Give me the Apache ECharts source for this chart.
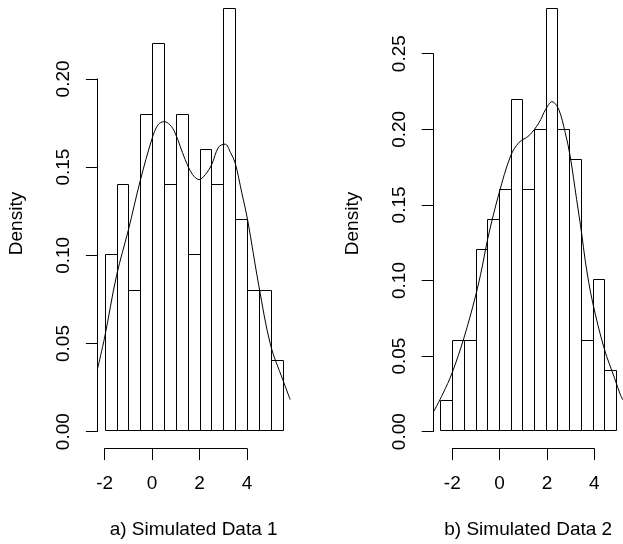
<!DOCTYPE html>
<html>
<head>
<meta charset="utf-8">
<script src="https://cdn.jsdelivr.net/npm/echarts@6/dist/echarts.min.js"></script>
<style>
  html, body { margin: 0; padding: 0; background: #fff; }
  #main { width: 623px; height: 544px; }
</style>
</head>
<body>
<div id="main"></div>
<script>
// histogram breaks and densities
const breaks1 = [-2, -1.5, -1, -0.5, 0, 0.5, 1, 1.5, 2, 2.5, 3, 3.5, 4, 4.5, 5, 5.5];
const density1 = [0.10, 0.14, 0.08, 0.18, 0.22, 0.14, 0.18, 0.10, 0.16, 0.14, 0.24, 0.12, 0.08, 0.08, 0.04];
const breaks2 = [-2.5, -2, -1.5, -1, -0.5, 0, 0.5, 1, 1.5, 2, 2.5, 3, 3.5, 4, 4.5, 5];
const density2 = [0.02, 0.06, 0.06, 0.12, 0.14, 0.16, 0.22, 0.16, 0.20, 0.28, 0.20, 0.18, 0.06, 0.10, 0.04];

// kernel density curves
const kdeX1 = [-2.3, -2.0, -1.5, -1.0, -0.5, 0.0, 0.25, 0.5, 0.75, 0.97, 1.39, 1.7, 1.98, 2.25, 2.51, 2.8, 3.08, 3.3, 3.5, 3.78, 4.02, 4.5, 5.0, 5.5, 5.82];
const kdeY1 = [0.035, 0.053, 0.088, 0.114, 0.142, 0.166, 0.1737, 0.1755, 0.1737, 0.169, 0.154, 0.1455, 0.1425, 0.1455, 0.151, 0.161, 0.1627, 0.158, 0.152, 0.135, 0.120, 0.082, 0.048, 0.029, 0.0174];
const kdeX2 = [-2.8, -2.4, -2.0, -1.5, -1.0, -0.72, -0.48, 0.0, 0.5, 0.86, 1.28, 1.71, 2.0, 2.27, 2.55, 2.83, 3.04, 3.32, 3.53, 3.7, 4.0, 4.5, 4.95, 5.2, 5.3];
const kdeY2 = [0.012, 0.024, 0.038, 0.061, 0.089, 0.108, 0.127, 0.157, 0.182, 0.191, 0.1954, 0.204, 0.213, 0.218, 0.213, 0.1976, 0.182, 0.153, 0.131, 0.111, 0.085, 0.054, 0.034, 0.023, 0.020];

const titles = ['a) Simulated Data 1', 'b) Simulated Data 2'];
const yLab = 'Density';

const FONT = 'Liberation Sans, Arial, Helvetica, sans-serif';

// plot regions in pixels, like R's par layout (top clipped at the window edge)
const panels = [
    { left: 97.6, plotW: 192.1, xMin: -2.3, xMax: 5.8, yMin: -0.0096, yMax: 0.2447,
      yAxTop: 78.9, yAxH: 352.8, yAxMax: 0.20, xAxLeft: 104.7, xAxW: 142.3 },
    { left: 433.4, plotW: 191.7, xMin: -2.8, xMax: 5.3, yMin: -0.0112, yMax: 0.2855,
      yAxTop: 53.7, yAxH: 378, yAxMax: 0.25, xAxLeft: 452.3, xAxW: 142 }
];
const plotTop = 0, plotH = 448.6;

function renderBar(params, api) {
    const p0 = api.coord([api.value(0), api.value(2)]);
    const p1 = api.coord([api.value(1), 0]);
    const x0 = Math.round(p0[0]) + 0.5, x1 = Math.round(p1[0]) + 0.5;
    const y0 = Math.round(p0[1]) + 0.5, y1 = Math.round(p1[1]) + 0.5;
    return {
        type: 'rect',
        shape: { x: x0, y: y0, width: x1 - x0, height: y1 - y0 },
        style: { fill: '#fff', stroke: '#000', lineWidth: 1 }
    };
}

const hidden = { axisLine: { show: false }, axisTick: { show: false }, axisLabel: { show: false }, splitLine: { show: false } };
const txt = { color: '#000', fontSize: 19, fontFamily: FONT };

let grid = [], xAxis = [], yAxis = [], series = [];
const histData = [[breaks1, density1], [breaks2, density2]];
const kdes = [[kdeX1, kdeY1], [kdeX2, kdeY2]];

panels.forEach(function (p, i) {
    const g = grid.length;
    // main plot region
    grid.push({ left: p.left, top: plotTop, width: p.plotW, height: plotH });
    xAxis.push(Object.assign({ gridIndex: g, type: 'value', min: p.xMin, max: p.xMax,
        name: titles[i], nameLocation: 'middle', nameGap: 73, nameTextStyle: txt }, hidden));
    yAxis.push(Object.assign({ gridIndex: g, type: 'value', min: p.yMin, max: p.yMax,
        name: yLab, nameLocation: 'middle', nameGap: 71, nameTextStyle: txt }, hidden));

    // y axis (only spans the tick range, as in R)
    grid.push({ left: p.left, top: p.yAxTop, width: 10, height: p.yAxH });
    xAxis.push({ gridIndex: g + 1, type: 'value', show: false });
    yAxis.push({ gridIndex: g + 1, type: 'value', min: 0, max: p.yAxMax, interval: 0.05,
        axisLine: { show: true, lineStyle: { color: '#000', width: 1 } },
        axisTick: { show: true, length: 11.7, lineStyle: { color: '#000', width: 1 } },
        axisLabel: Object.assign({ rotate: 90, margin: 24, formatter: function (v) { return v.toFixed(2); } }, txt),
        splitLine: { show: false } });

    // x axis
    grid.push({ left: p.xAxLeft, top: 438.6, width: p.xAxW, height: 10 });
    xAxis.push({ gridIndex: g + 2, type: 'value', min: -2, max: 4, interval: 2, position: 'bottom',
        axisLine: { show: true, lineStyle: { color: '#000', width: 1 } },
        axisTick: { show: true, length: 11.5, lineStyle: { color: '#000', width: 1 } },
        axisLabel: Object.assign({ margin: 26 }, txt),
        splitLine: { show: false } });
    yAxis.push({ gridIndex: g + 2, type: 'value', show: false });

    const br = histData[i][0], dens = histData[i][1];
    const bars = dens.map(function (d, k) { return [br[k], br[k + 1], d]; });
    series.push({
        type: 'custom', xAxisIndex: g, yAxisIndex: g, renderItem: renderBar,
        encode: { x: [0, 1], y: 2 }, data: bars, silent: true
    });
    const kx = kdes[i][0], ky = kdes[i][1];
    series.push({
        type: 'line', xAxisIndex: g, yAxisIndex: g, smooth: 0.35, showSymbol: false,
        data: kx.map(function (x, k) { return [x, ky[k]]; }),
        lineStyle: { color: '#000', width: 1 }, silent: true, clip: true
    });
});

const chart = echarts.init(document.getElementById('main'));
chart.setOption({
    backgroundColor: '#fff',
    animation: false,
    grid: grid,
    xAxis: xAxis,
    yAxis: yAxis,
    series: series
});
</script>
</body>
</html>
